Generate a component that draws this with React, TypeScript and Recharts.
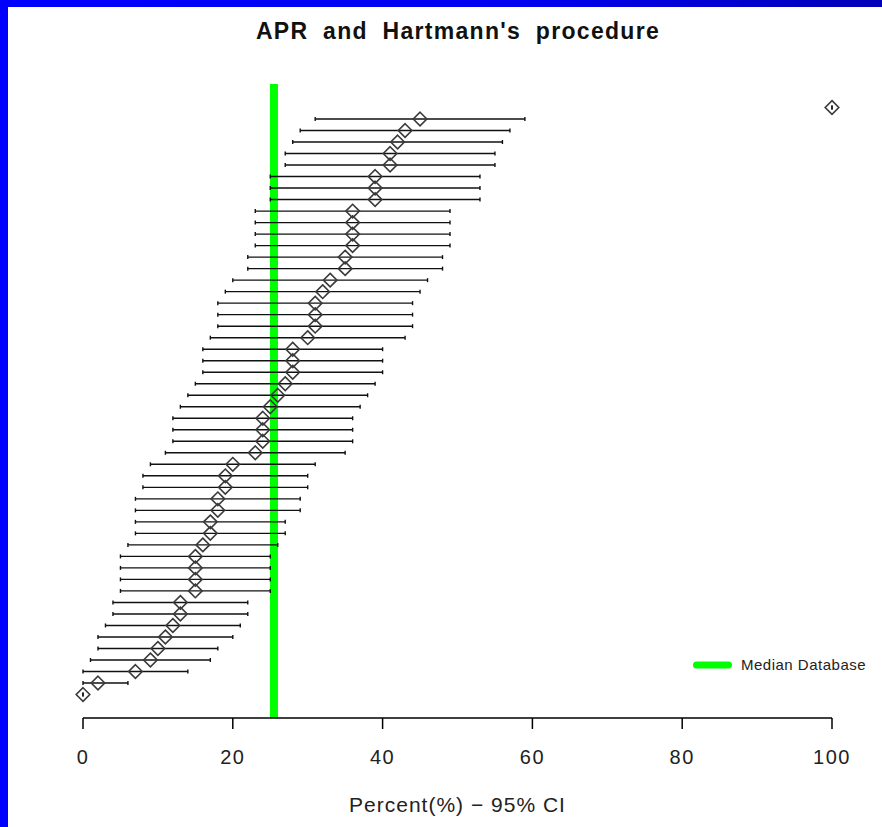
import React from 'react';
import { ScatterChart, Scatter, ErrorBar, XAxis, YAxis, ReferenceLine } from 'recharts';

const chartTitle = "APR and Hartmann's procedure";
const xAxisTitle = 'Percent(%) \u2212 95% CI';
const legendLabel = 'Median Database';
const medianDatabase = 25.5;
const xTicks = [0, 20, 40, 60, 80, 100];

// one entry per unit, top to bottom
const estimates = [
  100, 45, 43, 42, 41, 41, 39, 39, 39, 36, 36, 36, 36, 35, 35, 33, 32, 31, 31, 31,
  30, 28, 28, 28, 27, 26, 25, 24, 24, 24, 23, 20, 19, 19, 18, 18, 17, 17, 16, 15,
  15, 15, 15, 13, 13, 12, 11, 10, 9, 7, 2, 0,
];
const lowerCI = [
  100, 31, 29, 28, 27, 27, 25, 25, 25, 23, 23, 23, 23, 22, 22, 20, 19, 18, 18, 18,
  17, 16, 16, 16, 15, 14, 13, 12, 12, 12, 11, 9, 8, 8, 7, 7, 7, 7, 6, 5,
  5, 5, 5, 4, 4, 3, 2, 2, 1, 0, 0, 0,
];
const upperCI = [
  100, 59, 57, 56, 55, 55, 53, 53, 53, 49, 49, 49, 49, 48, 48, 46, 45, 44, 44, 44,
  43, 40, 40, 40, 39, 38, 37, 36, 36, 36, 35, 31, 30, 30, 29, 29, 27, 27, 26, 25,
  25, 25, 25, 22, 22, 21, 20, 18, 17, 14, 6, 0,
];

const data = estimates.map((v, i) => ({
  row: i,
  value: v,
  ci: [v - lowerCI[i], upperCI[i] - v],
}));

const rowPad = (estimates.length - 1) * 0.04;
const FONT = 'Liberation Sans, Arial, sans-serif';

const Diamond = (props: any) => {
  const { cx, cy } = props;
  if (cx == null || cy == null) return null;
  const r = 6.8;
  return (
    <path
      d={`M${cx},${cy - r} L${cx + r},${cy} L${cx},${cy + r} L${cx - r},${cy} Z`}
      fill="none"
      stroke="#3a3a3a"
      strokeWidth={1.6}
    />
  );
};

export default function App() {
  return (
    <div
      style={{
        position: 'absolute',
        left: 0,
        top: 0,
        width: 882,
        height: 827,
        background: 'linear-gradient(to right, #0000ff 0%, #0000f0 60%, #0000b8 100%)',
        overflow: 'hidden',
      }}
    >
      <div
        style={{
          position: 'absolute',
          left: 8,
          top: 7,
          width: 874,
          height: 820,
          background: '#ffffff',
        }}
      />
      <div style={{ position: 'absolute', left: 0, top: 0, width: 882, height: 827 }}>
        <ScatterChart
          width={882}
          height={827}
          data={data}
          margin={{ top: 84, right: 50, bottom: 49, left: 83 }}
        >
          <XAxis
            type="number"
            dataKey="value"
            domain={[0, 100]}
            ticks={xTicks}
            height={60}
            stroke="#000"
            strokeWidth={1.5}
            tickSize={11}
            tickMargin={21}
            tick={{ fontSize: 20, fill: '#222', fontFamily: FONT, letterSpacing: 1.5 }}
            label={{
              value: xAxisTitle,
              position: 'bottom',
              offset: 19,
              fontSize: 21,
              letterSpacing: 1,
              fill: '#222',
              fontFamily: FONT,
            }}
          />
          <YAxis
            type="number"
            dataKey="row"
            domain={[-rowPad, estimates.length - 1 + rowPad]}
            reversed
            hide
          />
          <ReferenceLine x={medianDatabase} stroke="#00ff00" strokeWidth={8} />
          <Scatter data={data} shape={<Diamond />} isAnimationActive={false} legendType="none">
            <ErrorBar dataKey="ci" direction="x" width={2} stroke="#111" strokeWidth={1.4} />
          </Scatter>
        </ScatterChart>
      </div>
      <svg
        width={190}
        height={22}
        style={{ position: 'absolute', left: 690, top: 655, display: 'block' }}
      >
        <line x1={6.5} y1={10} x2={38.5} y2={10} stroke="#00ff00" strokeWidth={7} strokeLinecap="round" />
        <text x={51} y={15} fontFamily={FONT} fontSize={15} letterSpacing={0.5} fill="#222">
          {legendLabel}
        </text>
      </svg>
      <div
        style={{
          position: 'absolute',
          left: 0,
          top: 20,
          width: 916,
          textAlign: 'center',
          fontFamily: FONT,
          fontWeight: 'bold',
          fontSize: 23,
          lineHeight: '22px',
          letterSpacing: 1.3,
          wordSpacing: 7,
          color: '#111',
          whiteSpace: 'nowrap',
        }}
      >
        {chartTitle}
      </div>
    </div>
  );
}
